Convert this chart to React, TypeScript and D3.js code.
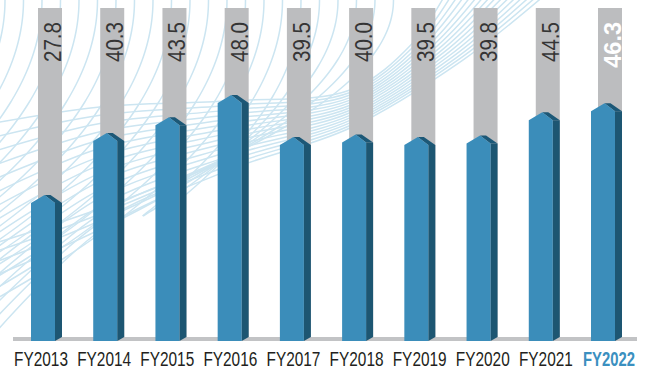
import React from 'react';
import * as d3 from 'd3';

const categories = ['FY2013', 'FY2014', 'FY2015', 'FY2016', 'FY2017', 'FY2018', 'FY2019', 'FY2020', 'FY2021', 'FY2022'];
const values = [27.8, 40.3, 43.5, 48.0, 39.5, 40.0, 39.5, 39.8, 44.5, 46.3];
const highlightCategory = 'FY2022';

const W = 648;
const H = 371;
const BASE = 341;

const FRONT = '#3b8dba';
const SIDE = '#1d5672';
const ROOF = '#1c5877';
const GRAY = '#bcbdbf';
const MESH = '#cce5f1';
const FONT = "'Liberation Sans', Arial, sans-serif";

export default function App() {
  const x = d3.scalePoint<string>().domain(categories).range([31, 591]);
  const xLabel = d3.scalePoint<string>().domain(categories).range([41, 609]);
  const y = d3.scaleLinear().domain([0, 60]).range([BASE, BASE - 4.96 * 60]);

  const line = d3.line<[number, number]>().curve(d3.curveCatmullRom.alpha(0.5));

  // decorative mesh, family B: band rising from lower left, sweeping to top right
  const nB = 16;
  const bandPts: [number, number][][] = [];
  for (let i = 0; i < nB; i++) {
    const f = i / (nB - 1);
    const yL = 122 + f * 210;
    const yC = 96 + f * 38;
    const xT = 445 + f * 100;
    bandPts.push([
      [-5, yL + 1],
      [100, yL - (yL - yC) * 0.5 - 2],
      [230, yC + (yL - yC) * 0.18],
      [350, yC - 6],
      [(350 + xT) / 2 + 15, yC * 0.45],
      [xT, -5],
    ]);
  }
  const meshB = bandPts.map((p) => line(p) as string);
  const low = bandPts[nB - 1];
  const lowY = d3.scaleLinear().domain(low.map((p) => p[0])).range(low.map((p) => p[1])).clamp(true);

  // family A: steep curves from the top edge bending left, ending at the band's lower edge
  const meshA: string[] = [];
  for (let i = 0; i < 22; i++) {
    const xt = 5 + i * 18.5;
    const k = 0.003 + Math.max(0, xt - 300) * 0.00004;
    const pts: [number, number][] = [];
    for (let yy = 0; yy <= 380; yy += 6) {
      const xx = xt - k * yy * yy;
      pts.push([xx, yy]);
      if (yy > lowY(xx) + 4 || xx < -10) break;
    }
    meshA.push(line(pts) as string);
  }

  return (
    <svg width={W} height={H} style={{ position: 'absolute', left: 0, top: 0, background: '#fff' }}>
      <g fill="none" stroke={MESH} strokeWidth={1.5}>
        {meshA.map((d, i) => <path key={'a' + i} d={d} />)}
        {meshB.map((d, i) => <path key={'b' + i} d={d} />)}
      </g>
      {categories.map((c) => {
        const x0 = x(c) as number;
        return <rect key={'g' + c} x={x0 + 7} y={8} width={24} height={BASE - 8} fill={GRAY} />;
      })}
      <rect x={13} y={337} width={624} height={4} fill="#c2c3c5" />
      {categories.map((c, i) => {
        const x0 = x(c) as number;
        const T = y(values[i]);
        const front = `M${x0},${BASE}L${x0},${T}L${x0 + 13.5},${T - 8}L${x0 + 24},${T}L${x0 + 24},${BASE}Z`;
        const roof = `M${x0 + 13.5},${T - 8}L${x0 + 19.5},${T - 8}L${x0 + 31},${T}L${x0 + 24},${T}Z`;
        const side = `M${x0 + 24},${T}L${x0 + 31},${T}L${x0 + 31},${BASE - 4}L${x0 + 24},${BASE}Z`;
        return (
          <g key={'b' + c}>
            <path d={side} fill={SIDE} />
            <path d={roof} fill={ROOF} />
            <path d={front} fill={FRONT} />
          </g>
        );
      })}
      {categories.map((c, i) => {
        const x0 = x(c) as number;
        const hl = c === highlightCategory;
        return (
          <text
            key={'v' + c}
            transform={`translate(${x0 + 30},22) rotate(-90) scale(${hl ? 1 : 0.875},1)`}
            textAnchor="end"
            fontFamily={FONT}
            fontSize={23.5}
            fontWeight={hl ? 'bold' : 'normal'}
            fill={hl ? '#ffffff' : '#353535'}
          >
            {values[i].toFixed(1)}
          </text>
        );
      })}
      {categories.map((c) => {
        const hl = c === highlightCategory;
        return (
          <text
            key={'l' + c}
            transform={`translate(${xLabel(c) as number},365.5) scale(${hl ? 0.76 : 0.79},1)`}
            textAnchor="middle"
            fontFamily={FONT}
            fontSize={19.5}
            fontWeight={hl ? 'bold' : 'normal'}
            fill={hl ? '#3b90c0' : '#231f20'}
          >
            {c}
          </text>
        );
      })}
    </svg>
  );
}
